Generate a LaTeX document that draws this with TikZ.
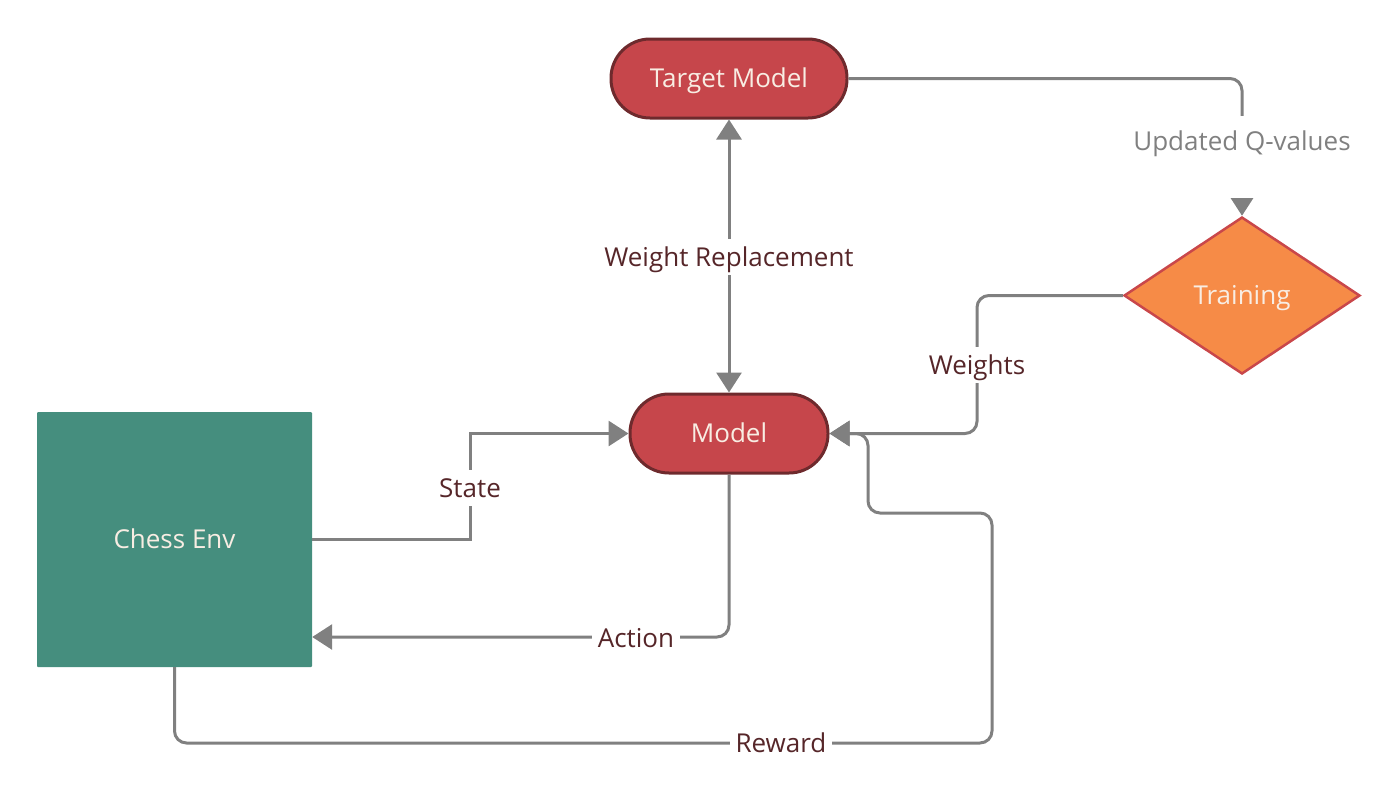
\documentclass[tikz,border=0pt]{standalone}
\usepackage{fontspec}
\setmainfont{Open Sans}
\usetikzlibrary{shapes.geometric,arrows.meta}
\definecolor{pillfill}{HTML}{C6464B}
\definecolor{pillline}{HTML}{6E2A2D}
\definecolor{envfill}{HTML}{458E7E}
\definecolor{trainfill}{HTML}{F68B47}
\definecolor{trainline}{HTML}{C9474A}
\definecolor{conngray}{HTML}{808080}
\definecolor{lbltext}{HTML}{562629}
\definecolor{nodetext}{HTML}{F8EDE3}
\tikzset{
  txt/.style={font=\fontsize{26pt}{30pt}\selectfont, text height=18.5pt, text depth=0pt},
  pill/.style={txt, draw=pillline, line width=3pt, fill=pillfill, rounded corners=39pt,
    text=nodetext, inner sep=0pt},
  envbox/.style={txt, fill=envfill, rounded corners=1pt, text=nodetext, inner sep=0pt},
  trainbox/.style={txt, diamond, draw=trainline, line width=2.5pt, fill=trainfill, text=nodetext,
    inner sep=0pt, aspect=1.5},
  conn/.style={draw=conngray, line width=3pt, rounded corners=12pt},
  tip/.style={-{Triangle[length=20pt,width=25pt]}},
  lbl/.style={txt, fill=white, text=lbltext, inner xsep=6pt, inner ysep=9pt},
  glbl/.style={lbl, text=conngray, text depth=31pt, inner ysep=16.5pt, anchor=base}
}
\begin{document}
\begin{tikzpicture}[x=1pt,y=-1pt]
\useasboundingbox (0,0) rectangle (1400,801);
\node[pill, minimum width=236pt, minimum height=79pt] (target) at (729,78.5) {Target Model};
\node[pill, minimum width=198pt, minimum height=79pt] (model) at (729,433.5) {Model};
\node[envbox, minimum width=275pt, minimum height=255pt] (chess) at (174.5,539.5) {Chess Env};
\node[trainbox, minimum width=236pt, minimum height=157pt] (training) at (1242,295.5) {Training};

\coordinate (qcorner) at (1242,78.5);
\coordinate (wc1) at (977,295.5);
\coordinate (wc2) at (977,433.5);
\coordinate (sc1) at (470,539.5);
\coordinate (sc2) at (470,433.5);
\coordinate (ac1) at (729,637);
\coordinate (rc1) at (174.5,743);
\coordinate (rc2) at (992,743);
\coordinate (rc3) at (992,513);
\coordinate (rc4) at (868,513);
\coordinate (rc5) at (868,433.5);

% connectors
\draw[conn, {Triangle[length=20pt,width=25pt]}-{Triangle[length=20pt,width=25pt]}] (target.south) -- (model.north);
\draw[conn, tip] (target.east) -- (qcorner) -- (training.north);
\draw[conn, tip] (training.west) -- (wc1) -- (wc2) -- (model.east);
\draw[conn, rounded corners=0pt, tip] (chess.east |- sc1) -- (sc1) -- (sc2) -- (model.west);
\draw[conn, tip] (model.south) -- (ac1) -- (chess.east |- ac1);
\draw[conn, tip] (chess.south) -- (rc1) -- (rc2) -- (rc3) -- (rc4) -- (rc5) -- (model.east);

% labels
\node[lbl] (lwr) at (729,257) {Weight Replacement};
\node[glbl] (lq) at (1242,150.5) {Updated Q-values};
\node[lbl] (lw) at (977,365) {Weights};
\node[lbl] (ls) at (470,488) {State};
\node[lbl] (la) at (636,638) {Action};
\node[lbl] (lr) at (781,743) {Reward};
\end{tikzpicture}
\end{document}
